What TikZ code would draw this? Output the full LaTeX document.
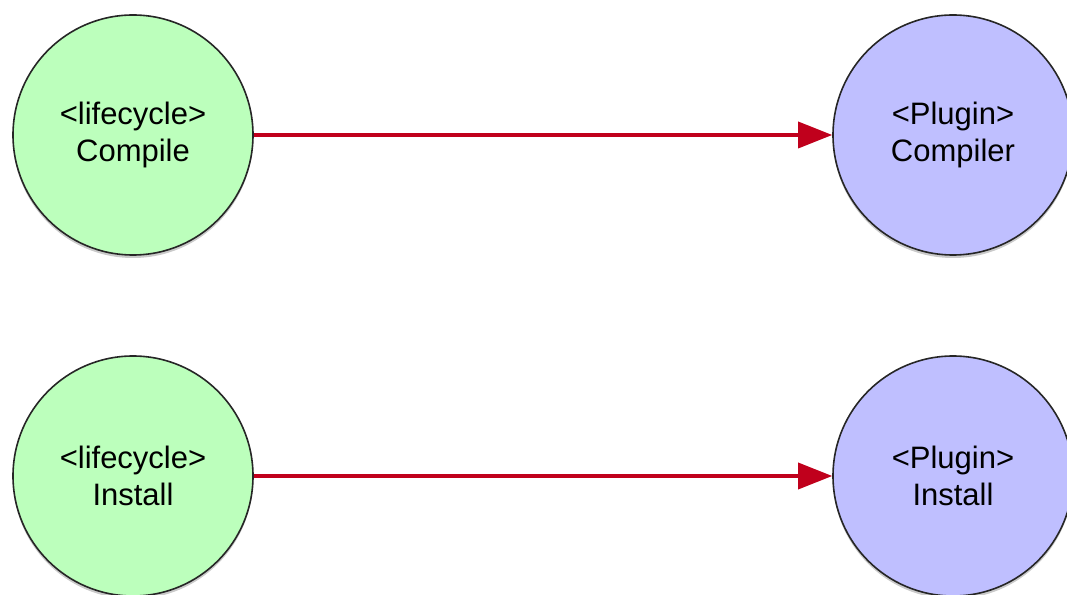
\documentclass[tikz,border=0pt]{standalone}
\usepackage{fontspec}
\setmainfont{Liberation Sans}
\usetikzlibrary{arrows.meta,shadows}
\definecolor{lifegreen}{RGB}{188,255,188}
\definecolor{plugblue}{RGB}{191,191,255}
\definecolor{arrred}{RGB}{192,0,28}
\tikzset{
  phase/.style={circle, draw=black!85, line width=1.6pt, minimum size=240pt, inner sep=0pt,
    align=center, font=\fontsize{31}{37}\selectfont,
    drop shadow={shadow xshift=0pt, shadow yshift=-3pt, opacity=0.35, fill=black!60}},
  lifebox/.style={phase, fill=lifegreen},
  plugbox/.style={phase, fill=plugblue},
  link/.style={draw=arrred, line width=3.6pt, -{Triangle[length=34pt,width=26pt]}}
}
\begin{document}
\begin{tikzpicture}[x=1pt,y=1pt]
\useasboundingbox (0,0) rectangle (1067,594);
\clip (0,0) rectangle (1067,594);
\node[lifebox] (lc) at (133,459) {<lifecycle>\\Compile};
\node[plugbox] (pc) at (953,459) {<Plugin>\\Compiler};
\node[lifebox] (li) at (133,118) {<lifecycle>\\Install};
\node[plugbox] (pi) at (953,118) {<Plugin>\\Install};
\draw[link] (lc) -- (pc);
\draw[link] (li) -- (pi);
\end{tikzpicture}
\end{document}
